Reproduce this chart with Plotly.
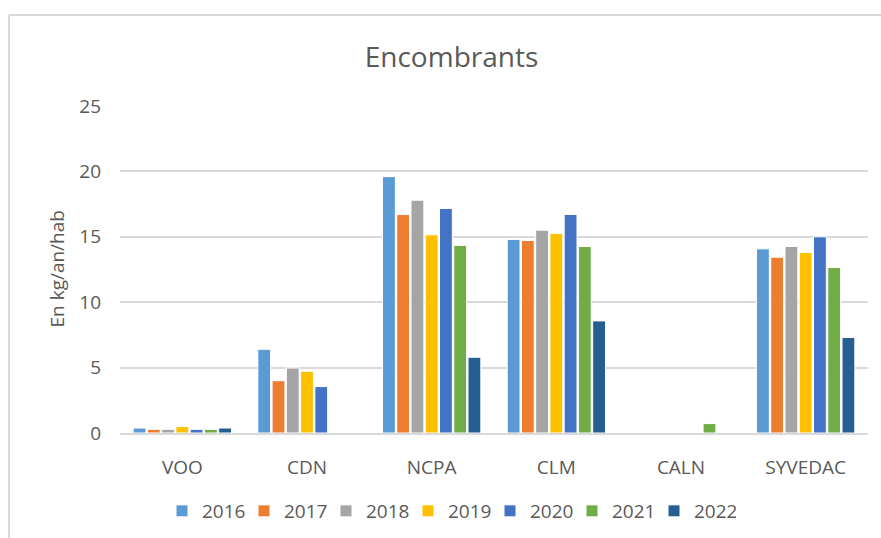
import plotly.graph_objects as go

categories = ["VOO", "CDN", "NCPA", "CLM", "CALN", "SYVEDAC"]
years = ["2016", "2017", "2018", "2019", "2020", "2021", "2022"]

v2016 = [0.38, 6.40, 19.60, 14.80, 0, 14.08]
v2017 = [0.28, 4.00, 16.70, 14.72, 0, 13.44]
v2018 = [0.28, 4.97, 17.80, 15.51, 0, 14.26]
v2019 = [0.49, 4.72, 15.15, 15.26, 0, 13.80]
v2020 = [0.28, 3.55, 17.17, 16.71, 0, 15.00]
v2021 = [0.28, 0, 14.34, 14.26, 0.72, 12.65]
v2022 = [0.38, 0, 5.79, 8.57, 0, 7.30]

series = [v2016, v2017, v2018, v2019, v2020, v2021, v2022]
colors = ["#5B9BD5", "#ED7D31", "#A5A5A5", "#FFC000", "#4472C4", "#70AD47", "#255E91"]

y_ticks = [0, 5, 10, 15, 20, 25]

FONT = "Open Sans, Noto Sans, sans-serif"
TXT = "#595959"

fig = go.Figure()
for name, vals, col in zip(years, series, colors):
    fig.add_trace(go.Bar(
        x=categories, y=vals, name=name,
        marker=dict(color=col, line=dict(color="white", width=1)),
    ))

W, H = 881, 538
L, R, T, B = 120, 13, 106, 105.3
pw = W - L - R
ph = H - T - B

fig.update_layout(
    width=W, height=H,
    margin=dict(l=L, r=R, t=T, b=B),
    paper_bgcolor="white", plot_bgcolor="white",
    barmode="group", bargap=0.2, bargroupgap=0.1,
    font=dict(family=FONT, size=19, color=TXT),
    title=dict(text="Encombrants", x=451.5 / W, xref="container", xanchor="center",
               y=1 - 57 / H, yref="container", yanchor="middle",
               font=dict(family=FONT, size=28, color=TXT)),
    legend=dict(orientation="h", xref="container", yref="container",
                x=449 / W, xanchor="center", y=1 - 511 / H, yanchor="middle",
                font=dict(family=FONT, size=19, color=TXT),
                entrywidth=37, entrywidthmode="pixels", traceorder="normal"),
    showlegend=True,
    annotations=[
        dict(text="En kg/an/hab", textangle=-90, showarrow=False,
             xref="paper", yref="paper",
             x=(56 - L) / pw, y=0.5, xanchor="center", yanchor="middle",
             font=dict(family=FONT, size=19, color=TXT)),
    ],
    shapes=[
        dict(type="line", xref="paper", yref="paper",
             x0=(9 - L) / pw, x1=(W + 5 - L) / pw,
             y0=(H - B - 15) / ph, y1=(H - B - 15) / ph,
             line=dict(color="#D9D9D9", width=2), layer="below"),
        dict(type="line", xref="paper", yref="paper",
             x0=(9 - L) / pw, x1=(9 - L) / pw,
             y0=(H - B - 15) / ph, y1=(H - B - H - 10) / ph,
             line=dict(color="#D9D9D9", width=2), layer="below"),
    ],
)

fig.update_xaxes(
    showgrid=False, showline=True, linecolor="#D9D9D9", linewidth=1.5,
    ticks="", ticklabelstandoff=16,
    tickfont=dict(family=FONT, size=19, color=TXT),
)
fig.update_yaxes(
    range=[0, 25], tickvals=y_ticks, ticktext=[str(t) for t in y_ticks],
    showgrid=True, gridcolor="#D9D9D9", gridwidth=1.5,
    zeroline=False, showline=False, ticks="", ticklabelstandoff=18,
    tickfont=dict(family=FONT, size=19, color=TXT),
)

fig.write_html(
    "out.html",
    config={"displayModeBar": False},
    post_script="document.body.style.margin='0';document.body.style.overflow='hidden';",
)
